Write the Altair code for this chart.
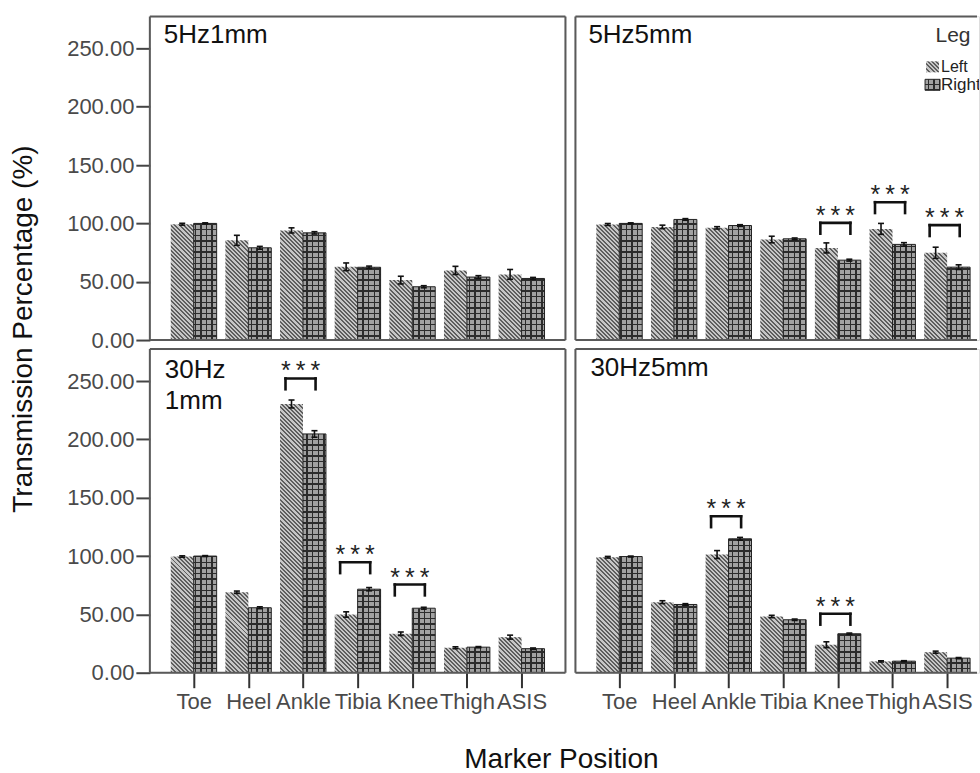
import json
import altair as alt

categories = ["Toe", "Heel", "Ankle", "Tibia", "Knee", "Thigh", "ASIS"]

# Mean transmission percentage per marker, left and right leg, with error-bar half lengths
left_5hz1mm = [99.3, 85.5, 94.0, 62.8, 51.4, 59.7, 56.3]
right_5hz1mm = [100.0, 79.1, 91.9, 62.4, 45.7, 54.0, 52.8]
left_err_5hz1mm = [0.8, 4.3, 2.2, 3.3, 3.3, 3.5, 4.2]
right_err_5hz1mm = [0.5, 1.2, 1.0, 1.0, 0.9, 1.2, 0.9]

left_5hz5mm = [99.1, 97.0, 96.2, 86.2, 79.0, 95.3, 74.8]
right_5hz5mm = [100.0, 103.4, 98.2, 86.8, 68.5, 82.0, 62.5]
left_err_5hz5mm = [0.8, 1.5, 1.0, 2.8, 4.3, 4.7, 4.8]
right_err_5hz5mm = [0.5, 0.7, 0.7, 0.7, 0.8, 1.5, 2.0]

left_30hz1mm = [99.6, 69.0, 230.4, 49.9, 33.4, 21.4, 30.5]
right_30hz1mm = [100.0, 55.7, 204.7, 71.6, 55.3, 21.9, 20.6]
left_err_30hz1mm = [0.6, 1.0, 3.4, 2.3, 1.5, 0.8, 1.7]
right_err_30hz1mm = [0.4, 0.8, 2.8, 1.4, 0.8, 0.5, 0.6]

left_30hz5mm = [99.0, 60.5, 101.3, 48.2, 24.0, 9.7, 17.6]
right_30hz5mm = [99.6, 58.5, 114.8, 45.4, 33.4, 9.9, 12.5]
left_err_30hz5mm = [0.7, 1.2, 3.4, 1.0, 2.5, 0.5, 0.9]
right_err_30hz5mm = [0.4, 0.7, 1.2, 0.6, 0.6, 0.4, 0.5]

# Significant left/right differences (***): marker and bracket height
sig_markers_5hz5mm = ["Knee", "Thigh", "ASIS"]
sig_heights_5hz5mm = [100.5, 118.2, 98.5]
sig_markers_30hz1mm = ["Ankle", "Tibia", "Knee"]
sig_heights_30hz1mm = [252.3, 94.7, 75.6]
sig_markers_30hz5mm = ["Ankle", "Knee"]
sig_heights_30hz5mm = [134.1, 50.5]

y_ticks = [0, 50, 100, 150, 200, 250]

# ---- layout ----
PANEL_H = 324
LEFT_W = 416
RIGHT_W = 404
Y_MAX = 277.5
X_MIN = -0.8025
X_MAX_LEFT = 6 - X_MIN
PX_PER_X = LEFT_W / (X_MAX_LEFT - X_MIN)
PX_PER_Y = PANEL_H / Y_MAX
X_MAX_RIGHT = X_MIN + RIGHT_W / PX_PER_X
BAR_W = 0.42
CAP = 0.055

FONT = "Liberation Sans"
INK = "#111111"
FRAME = "#5a5a5a"
PANEL_BG = "#f0f0f0"
TICK_TEXT = "#4a4a4a"

HATCH_LIGHT = "#c6c6c6"
HATCH_DARK = "#5e5e5e"
GRID_BASE = "#a2a2a2"
GRID_LINE = "#2c2c2c"
CLEAR = "rgba(0,0,0,0)"

STARS = "*\u2009*\u2009*"


def stripe_stops(length, offset, period, line_w, line_col, bg_col):
    """Gradient stops giving hard-edged stripes along a run of `length` pixels."""
    stops = [{"offset": 0, "color": bg_col}]

    def add(u, col):
        stops.append({"offset": round(min(max(u / length, 0.0), 1.0), 5), "color": col})

    u = -(offset % period)
    while u < length:
        a, b = max(u, 0.0), min(u + line_w, length)
        if b > a:
            add(a, bg_col)
            add(a, line_col)
            add(b, line_col)
            add(b, bg_col)
        u += period
    add(length, bg_col)
    return stops


def hatch_fill(w, h, left_px, top_px):
    """Diagonal '\\' hatching at 45 degrees in pixel space."""
    k = (w + h) / (w * w + h * h)
    stops = stripe_stops(w + h, left_px - top_px - h, 4.2, 2.0, HATCH_DARK, HATCH_LIGHT)
    return {"gradient": "linear", "x1": 0, "y1": 1, "x2": k * w, "y2": 1 - k * h, "stops": stops}


def column_fill(w, left_px):
    stops = stripe_stops(w, left_px, 5.6, 1.4, GRID_LINE, GRID_BASE)
    return {"gradient": "linear", "x1": 0, "y1": 0, "x2": 1, "y2": 0, "stops": stops}


def row_fill(h, top_px):
    stops = stripe_stops(h, top_px, 5.6, 1.4, GRID_LINE, CLEAR)
    return {"gradient": "linear", "x1": 0, "y1": 0, "x2": 0, "y2": 1, "stops": stops}


label_expr = json.dumps(categories) + "[datum.value]"


def x_enc(field, show_axis, x_max):
    axis = None
    if show_axis:
        axis = alt.Axis(values=list(range(len(categories))), labelExpr=label_expr,
                        tickSize=15, tickWidth=2, tickColor="#333333",
                        labelFont=FONT, labelFontSize=22, labelColor=TICK_TEXT,
                        labelPadding=4, labelOverlap=False, labelFlush=False,
                        domain=False, grid=False, title=None)
    return alt.X(f"{field}:Q", scale=alt.Scale(domain=[X_MIN, x_max], nice=False, zero=False), axis=axis)


def y_enc(field, show_axis):
    axis = None
    if show_axis:
        axis = alt.Axis(values=y_ticks, format=".2f", tickSize=14, tickWidth=2,
                        tickColor="#444444", labelFont=FONT, labelFontSize=22,
                        labelColor=TICK_TEXT, labelPadding=2, domain=False,
                        grid=False, title=None)
    return alt.Y(f"{field}:Q", scale=alt.Scale(domain=[0, Y_MAX], nice=False, zero=False), axis=axis)


ONE = alt.Data(values=[{"frame": 1}])


def text_at(x, y, text, size, align="left", baseline="alphabetic", color=INK, angle=0, clip=False):
    kw = dict(fontSize=size, align=align, baseline=baseline, color=color, font=FONT)
    if angle:
        kw["angle"] = angle
    if clip:
        kw["clip"] = True
    return alt.Chart(ONE).mark_text(**kw).encode(x=alt.value(x), y=alt.value(y), text=alt.value(text))


def make_panel(left, right, left_err, right_err, sig_markers, sig_heights, labels,
               show_x, show_y, width, extras=()):
    x_max = X_MAX_LEFT if width == LEFT_W else X_MAX_RIGHT
    left_rows, right_rows, err_rows, cap_rows = [], [], [], []
    w_px = BAR_W * PX_PER_X
    for i, cat in enumerate(categories):
        for leg, vals, errs, x0 in (("Left", left, left_err, i - BAR_W),
                                    ("Right", right, right_err, i)):
            v, e = vals[i], errs[i]
            h_px = v * PX_PER_Y
            left_px = (x0 - X_MIN) * PX_PER_X
            top_px = PANEL_H - h_px
            row = {"marker": cat, "leg": leg, "x0": x0, "x1": x0 + BAR_W, "v": v}
            if leg == "Left":
                row["fill"] = hatch_fill(w_px, h_px, left_px, top_px)
                left_rows.append(row)
            else:
                row["fill"] = column_fill(w_px, left_px)
                row["grid"] = row_fill(h_px, top_px)
                right_rows.append(row)
            xc = x0 + BAR_W / 2
            err_rows.append({"xc": xc, "lo": v - e, "hi": v + e})
            for yv in (v - e, v + e):
                cap_rows.append({"cl": xc - CAP, "cr": xc + CAP, "cy": yv})

    X = lambda f: x_enc(f, show_x, x_max)
    Y = lambda f: y_enc(f, show_y)

    layers = [
        alt.Chart(alt.Data(values=left_rows)).mark_bar(strokeWidth=0).encode(
            x=X("x0"), x2="x1", y=Y("v"), y2=alt.datum(0),
            fill=alt.Fill("fill:N", scale=None)),
        alt.Chart(alt.Data(values=right_rows)).mark_bar(strokeWidth=0).encode(
            x=X("x0"), x2="x1", y=Y("v"), y2=alt.datum(0),
            fill=alt.Fill("fill:N", scale=None)),
        alt.Chart(alt.Data(values=right_rows)).mark_bar(stroke="#222222", strokeWidth=1).encode(
            x=X("x0"), x2="x1", y=Y("v"), y2=alt.datum(0),
            fill=alt.Fill("grid:N", scale=None)),
        alt.Chart(alt.Data(values=err_rows)).mark_rule(color=INK, strokeWidth=1.6).encode(
            x=X("xc"), y=Y("lo"), y2="hi"),
        alt.Chart(alt.Data(values=cap_rows)).mark_rule(color=INK, strokeWidth=1.6).encode(
            x=X("cl"), x2="cr", y=Y("cy")),
    ]

    if sig_markers:
        bar_rows, leg_rows = [], []
        for m, top in zip(sig_markers, sig_heights):
            i = categories.index(m)
            bl, br = i - 0.32, i + 0.23
            bar_rows.append({"bl": bl, "br": br, "top": top, "mid": (bl + br) / 2, "stars": STARS})
            for lx in (bl, br):
                leg_rows.append({"lx": lx, "top": top, "foot": top - 9.3})
        layers += [
            alt.Chart(alt.Data(values=bar_rows)).mark_rule(color=INK, strokeWidth=2.6, strokeCap="square").encode(
                x=X("bl"), x2="br", y=Y("top")),
            alt.Chart(alt.Data(values=leg_rows)).mark_rule(color=INK, strokeWidth=2.6, strokeCap="square").encode(
                x=X("lx"), y=Y("top"), y2="foot"),
            alt.Chart(alt.Data(values=bar_rows)).mark_text(
                fontSize=25, align="center", baseline="alphabetic", dy=1, color="#222222", font=FONT).encode(
                x=X("mid"), y=Y("top"), text="stars:N"),
        ]

    layers += list(extras)

    # panel frame
    x_end = width if width == LEFT_W else width - 2
    layers += [
        alt.Chart(ONE).mark_rule(color=FRAME, strokeWidth=2).encode(
            x=alt.value(0), x2=alt.value(x_end), y=alt.value(0)),
        alt.Chart(ONE).mark_rule(color=FRAME, strokeWidth=2).encode(
            x=alt.value(0), x2=alt.value(x_end), y=alt.value(PANEL_H)),
        alt.Chart(ONE).mark_rule(color=FRAME, strokeWidth=2).encode(
            x=alt.value(0), y=alt.value(0), y2=alt.value(PANEL_H)),
    ]
    if width == LEFT_W:
        layers.append(alt.Chart(ONE).mark_rule(color=FRAME, strokeWidth=2).encode(
            x=alt.value(width), y=alt.value(0), y2=alt.value(PANEL_H)))

    for (lx, ly, txt) in labels:
        layers.append(text_at(lx, ly, txt, 26))

    return alt.layer(*layers).properties(width=width, height=PANEL_H)


# legend drawn inside the 5Hz5mm panel
legend_layers = [
    alt.Chart(ONE).mark_rect(color="#ffffff", opacity=1).encode(
        x=alt.value(346), x2=alt.value(RIGHT_W), y=alt.value(1), y2=alt.value(93)),
    text_at(378, 26, "Leg", 21, align="center", color="#333333"),
    alt.Chart(ONE).mark_rect(strokeWidth=0).encode(
        x=alt.value(351), x2=alt.value(364), y=alt.value(45), y2=alt.value(56),
        fill=alt.value(hatch_fill(13, 11, 351, 45))),
    text_at(366, 56, "Left", 16, color="#222222"),
    alt.Chart(ONE).mark_rect(strokeWidth=0).encode(
        x=alt.value(350), x2=alt.value(365), y=alt.value(63), y2=alt.value(74),
        fill=alt.value(column_fill(15, 350))),
    alt.Chart(ONE).mark_rect(stroke="#222222", strokeWidth=1).encode(
        x=alt.value(350), x2=alt.value(365), y=alt.value(63), y2=alt.value(74),
        fill=alt.value(row_fill(11, 63))),
    text_at(366, 74, "Right", 17, color="#222222", clip=True),
]

# shared axis titles, placed relative to the panels they sit beside
y_title_layers = [
    alt.Chart(ONE).mark_rect(fill="white").encode(
        x=alt.value(-149), x2=alt.value(-148), y=alt.value(-15), y2=alt.value(-14)),
    text_at(-126, 313, "Transmission Percentage (%)", 28, align="center", baseline="middle", angle=270),
]
x_title_layers = [
    text_at(412, 411, "Marker Position", 28, align="center", baseline="middle"),
]

top_left = make_panel(left_5hz1mm, right_5hz1mm, left_err_5hz1mm, right_err_5hz1mm,
                      [], [], [(14, 27, "5Hz1mm")], False, True, LEFT_W, y_title_layers)
top_right = make_panel(left_5hz5mm, right_5hz5mm, left_err_5hz5mm, right_err_5hz5mm,
                       sig_markers_5hz5mm, sig_heights_5hz5mm, [(13, 27, "5Hz5mm")],
                       False, False, RIGHT_W, legend_layers)
bottom_left = make_panel(left_30hz1mm, right_30hz1mm, left_err_30hz1mm, right_err_30hz1mm,
                         sig_markers_30hz1mm, sig_heights_30hz1mm,
                         [(15, 29, "30Hz"), (15, 60, "1mm")], True, True, LEFT_W, x_title_layers)
bottom_right = make_panel(left_30hz5mm, right_30hz5mm, left_err_30hz5mm, right_err_30hz5mm,
                          sig_markers_30hz5mm, sig_heights_30hz5mm, [(15, 27, "30Hz5mm")],
                          True, False, RIGHT_W)

chart = (
    alt.concat(top_left, top_right, bottom_left, bottom_right, columns=2,
               spacing={"row": 9, "column": 10}, bounds="flush")
    .properties(padding=0)
    .configure_view(stroke=None, fill=PANEL_BG)
    .configure(font=FONT, background="white")
)

chart.save("out.html", embed_options={"renderer": "svg", "actions": False})
